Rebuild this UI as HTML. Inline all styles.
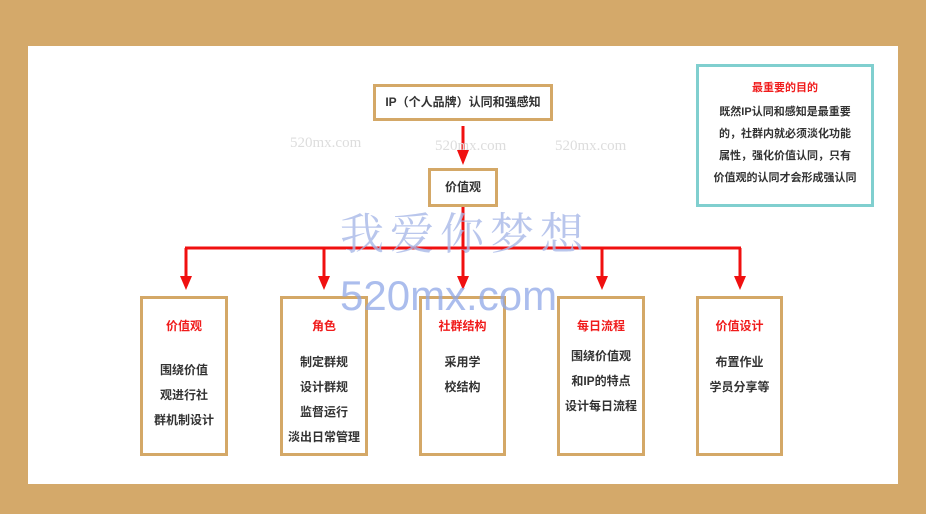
<!DOCTYPE html>
<html><head><meta charset="utf-8"><style>
body{margin:0;width:926px;height:514px;background:#d4a96a;position:relative;overflow:hidden;font-family:"Liberation Sans","Noto Sans CJK SC",sans-serif}
.panel{position:absolute;left:28px;top:46px;width:870px;height:438px;background:#fff}
.b{position:absolute;border:3px solid #d4a867;background:#fff;box-sizing:border-box;text-align:center;font-size:12px;color:#333;font-weight:bold}
.t{color:#f01c1c;font-size:12px;font-weight:bold}
.wm{position:absolute;color:#ddd;font-family:"Liberation Serif",serif;font-size:15px}
</style></head><body>
<div class="panel"></div>
<div class="b" style="left:373px;top:84px;width:180px;height:37px;line-height:31px">IP（个人品牌）认同和强感知</div>
<div class="b" style="left:428px;top:168px;width:70px;height:39px;line-height:33px">价值观</div>
<svg style="position:absolute;left:0;top:0" width="926" height="514">
<g stroke="#f01010" stroke-width="3" fill="none">
<line x1="463" y1="126" x2="463" y2="152"/>
<line x1="463" y1="207" x2="463" y2="278"/>
<line x1="185" y1="248" x2="741" y2="248"/>
<line x1="186" y1="248" x2="186" y2="278"/>
<line x1="324" y1="248" x2="324" y2="278"/>
<line x1="602" y1="248" x2="602" y2="278"/>
<line x1="740" y1="248" x2="740" y2="278"/>
</g>
<g fill="#f01010">
<polygon points="457,150 469,150 463,165"/>
<polygon points="180,276 192,276 186,290"/>
<polygon points="318,276 330,276 324,290"/>
<polygon points="457,276 469,276 463,290"/>
<polygon points="596,276 608,276 602,290"/>
<polygon points="734,276 746,276 740,290"/>
</g>
</svg>
<div class="b" style="left:140px;top:296px;width:88px;height:160px;padding-top:18px"><div class="t">价值观</div><div style="margin-top:24px;line-height:25px">围绕价值<br>观进行社<br>群机制设计</div></div>
<div class="b" style="left:280px;top:296px;width:88px;height:160px;padding-top:18px"><div class="t">角色</div><div style="margin-top:16px;line-height:25px">制定群规<br>设计群规<br>监督运行<br>淡出日常管理</div></div>
<div class="b" style="left:419px;top:296px;width:87px;height:160px;padding-top:18px"><div class="t">社群结构</div><div style="margin-top:16px;line-height:25px">采用学<br>校结构</div></div>
<div class="b" style="left:557px;top:296px;width:88px;height:160px;padding-top:18px"><div class="t">每日流程</div><div style="margin-top:10px;line-height:25px">围绕价值观<br>和IP的特点<br>设计每日流程</div></div>
<div class="b" style="left:696px;top:296px;width:87px;height:160px;padding-top:18px"><div class="t">价值设计</div><div style="margin-top:16px;line-height:25px">布置作业<br>学员分享等</div></div>
<div class="b" style="left:696px;top:64px;width:178px;height:143px;border-color:#80cfcf;padding-top:12px"><div class="t" style="font-size:11px">最重要的目的</div><div style="margin-top:6px;line-height:22px;font-size:11px">既然IP认同和感知是最重要<br>的，社群内就必须淡化功能<br>属性，强化价值认同，只有<br>价值观的认同才会形成强认同</div></div>
<div class="wm" style="left:290px;top:135px">520mx.com</div>
<div class="wm" style="left:435px;top:138px">520mx.com</div>
<div class="wm" style="left:555px;top:138px">520mx.com</div>
<div style="position:absolute;left:340px;top:198px;font-size:44px;font-family:'Noto Serif CJK SC',serif;color:#a8b8e8;opacity:.8;letter-spacing:6px">我爱你梦想</div>
<div style="position:absolute;left:340px;top:272px;font-size:42px;color:#8fa8e8;opacity:.75">520mx.com</div>
</body></html>
